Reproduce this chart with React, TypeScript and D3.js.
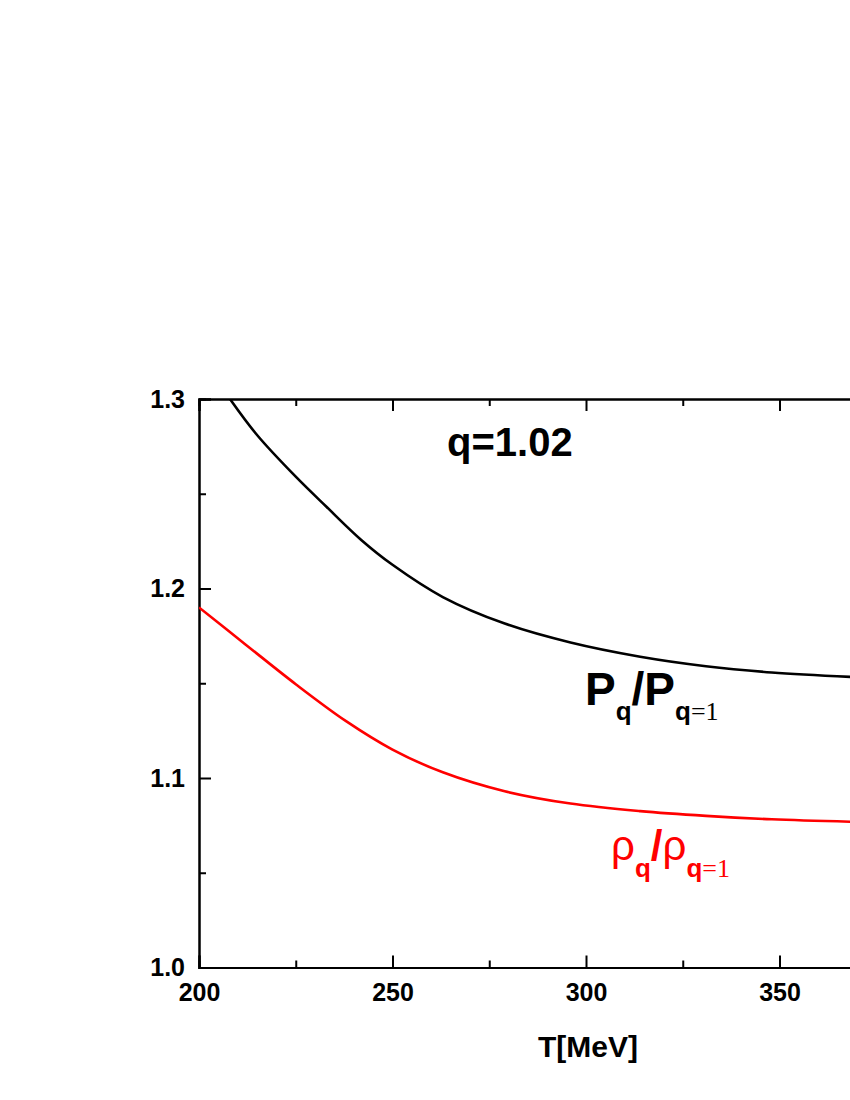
import React, { useEffect, useRef } from 'react';
import * as d3 from 'd3';

// P_q / P_{q=1}
const tempP = [208, 215, 225, 233, 242, 250, 263, 279, 296, 314, 331, 348, 370];
const ratioP = [1.3, 1.281, 1.259, 1.243, 1.2255, 1.2125, 1.1955, 1.1815, 1.1715, 1.164, 1.159, 1.1557, 1.1532];

// rho_q / rho_{q=1}
const tempRho = [200, 212, 225, 238, 250, 263, 279, 296, 314, 331, 348, 370];
const ratioRho = [1.19, 1.1705, 1.1495, 1.13, 1.115, 1.103, 1.093, 1.0865, 1.0825, 1.08, 1.0782, 1.0768];

const xMajor = [200, 250, 300, 350, 400];
const xMinor = [225, 275, 325, 375];
const yMajor = [1.0, 1.1, 1.2, 1.3];
const yMinor = [1.05, 1.15, 1.25];

const W = 850;
const H = 1100;
const SANS = '"Liberation Sans", Arial, sans-serif';
const SERIF = '"Liberation Serif", "Times New Roman", serif';

const App = () => {
  const ref = useRef(null);

  useEffect(() => {
    const svg = d3.select(ref.current);
    svg.selectAll('*').remove();

    // plot box (right edge runs off the page, like the original)
    const x = d3.scaleLinear().domain([200, 400]).range([199, 973]);
    const y = d3.scaleLinear().domain([1.0, 1.3]).range([967.5, 399]);
    const [x0, x1] = x.range();
    const [y0, y1] = y.range();

    svg.append('defs').append('clipPath').attr('id', 'plot')
      .append('rect')
      .attr('x', x0).attr('y', y1)
      .attr('width', x1 - x0).attr('height', y0 - y1);

    const styleAxis = (g) => {
      g.select('.domain').attr('stroke', '#000').attr('stroke-width', 2);
      g.selectAll('.tick line').attr('stroke', '#000').attr('stroke-width', 2);
      g.selectAll('text')
        .attr('fill', '#000')
        .attr('font-family', SANS)
        .attr('font-weight', 'bold')
        .attr('font-size', 25);
    };

    // bottom
    svg.append('g')
      .attr('transform', `translate(0,${y0})`)
      .call(d3.axisBottom(x).tickValues(xMajor.slice(0, 4)).tickSize(-12).tickPadding(16).tickFormat(d3.format('d')))
      .call(styleAxis);
    svg.append('g')
      .attr('transform', `translate(0,${y0})`)
      .call(d3.axisBottom(x).tickValues(xMinor).tickSize(-7).tickFormat(() => ''))
      .call(styleAxis);

    // top
    svg.append('g')
      .attr('transform', `translate(0,${y1})`)
      .call(d3.axisTop(x).tickValues(xMajor).tickSize(-12).tickFormat(() => ''))
      .call(styleAxis);
    svg.append('g')
      .attr('transform', `translate(0,${y1})`)
      .call(d3.axisTop(x).tickValues(xMinor).tickSize(-7).tickFormat(() => ''))
      .call(styleAxis);

    // left
    svg.append('g')
      .attr('transform', `translate(${x0},0)`)
      .call(d3.axisLeft(y).tickValues(yMajor).tickSize(-12).tickPadding(14).tickFormat(d3.format('.1f')))
      .call(styleAxis);
    svg.append('g')
      .attr('transform', `translate(${x0},0)`)
      .call(d3.axisLeft(y).tickValues(yMinor).tickSize(-7).tickFormat(() => ''))
      .call(styleAxis);

    // right
    svg.append('g')
      .attr('transform', `translate(${x1},0)`)
      .call(d3.axisRight(y).tickValues(yMajor).tickSize(-12).tickFormat(() => ''))
      .call(styleAxis);

    const line = d3.line()
      .x((d) => x(d[0]))
      .y((d) => y(d[1]))
      .curve(d3.curveCatmullRom.alpha(0.5));

    const curves = [
      { pts: tempP.map((t, i) => [t, ratioP[i]]), color: '#000' },
      { pts: tempRho.map((t, i) => [t, ratioRho[i]]), color: '#ff0000' },
    ];

    svg.append('g').attr('clip-path', 'url(#plot)')
      .selectAll('path')
      .data(curves)
      .join('path')
      .attr('fill', 'none')
      .attr('stroke', (d) => d.color)
      .attr('stroke-width', 2.6)
      .attr('d', (d) => line(d.pts));

    // axis title
    svg.append('text')
      .attr('x', 588).attr('y', 1057)
      .attr('text-anchor', 'middle')
      .attr('font-family', SANS).attr('font-weight', 'bold').attr('font-size', 30)
      .text('T[MeV]');

    svg.append('text')
      .attr('x', 447).attr('y', 456)
      .attr('font-family', SANS).attr('font-weight', 'bold').attr('font-size', 40)
      .text('q=1.02');

    // P_q / P_{q=1}
    const p = svg.append('text')
      .attr('x', 585).attr('y', 705)
      .attr('font-family', SANS).attr('font-weight', 'bold').attr('font-size', 46)
      .attr('fill', '#000');
    p.append('tspan').text('P');
    p.append('tspan').attr('dy', 15).attr('font-size', 26).text('q');
    p.append('tspan').attr('dy', -15).text('/P');
    p.append('tspan').attr('dy', 15).attr('font-size', 26).text('q');
    p.append('tspan').attr('font-size', 26).attr('font-family', SERIF).attr('font-weight', 'normal').text('=1');

    // rho_q / rho_{q=1}
    const r = svg.append('text')
      .attr('x', 611).attr('y', 860)
      .attr('font-family', SANS).attr('font-size', 42)
      .attr('fill', '#ff0000');
    r.append('tspan').text('ρ');
    r.append('tspan').attr('dy', 17).attr('font-size', 26).attr('font-weight', 'bold').text('q');
    r.append('tspan').attr('dy', -17).attr('font-weight', 'bold').text('/');
    r.append('tspan').text('ρ');
    r.append('tspan').attr('dy', 17).attr('font-size', 26).attr('font-weight', 'bold').text('q');
    r.append('tspan').attr('font-size', 26).attr('font-family', SERIF).text('=1');
  }, []);

  return (
    <div>
      <style>{'body{margin:0}'}</style>
      <svg ref={ref} width={W} height={H} style={{ display: 'block', background: '#fff' }}></svg>
    </div>
  );
};

export default App;
